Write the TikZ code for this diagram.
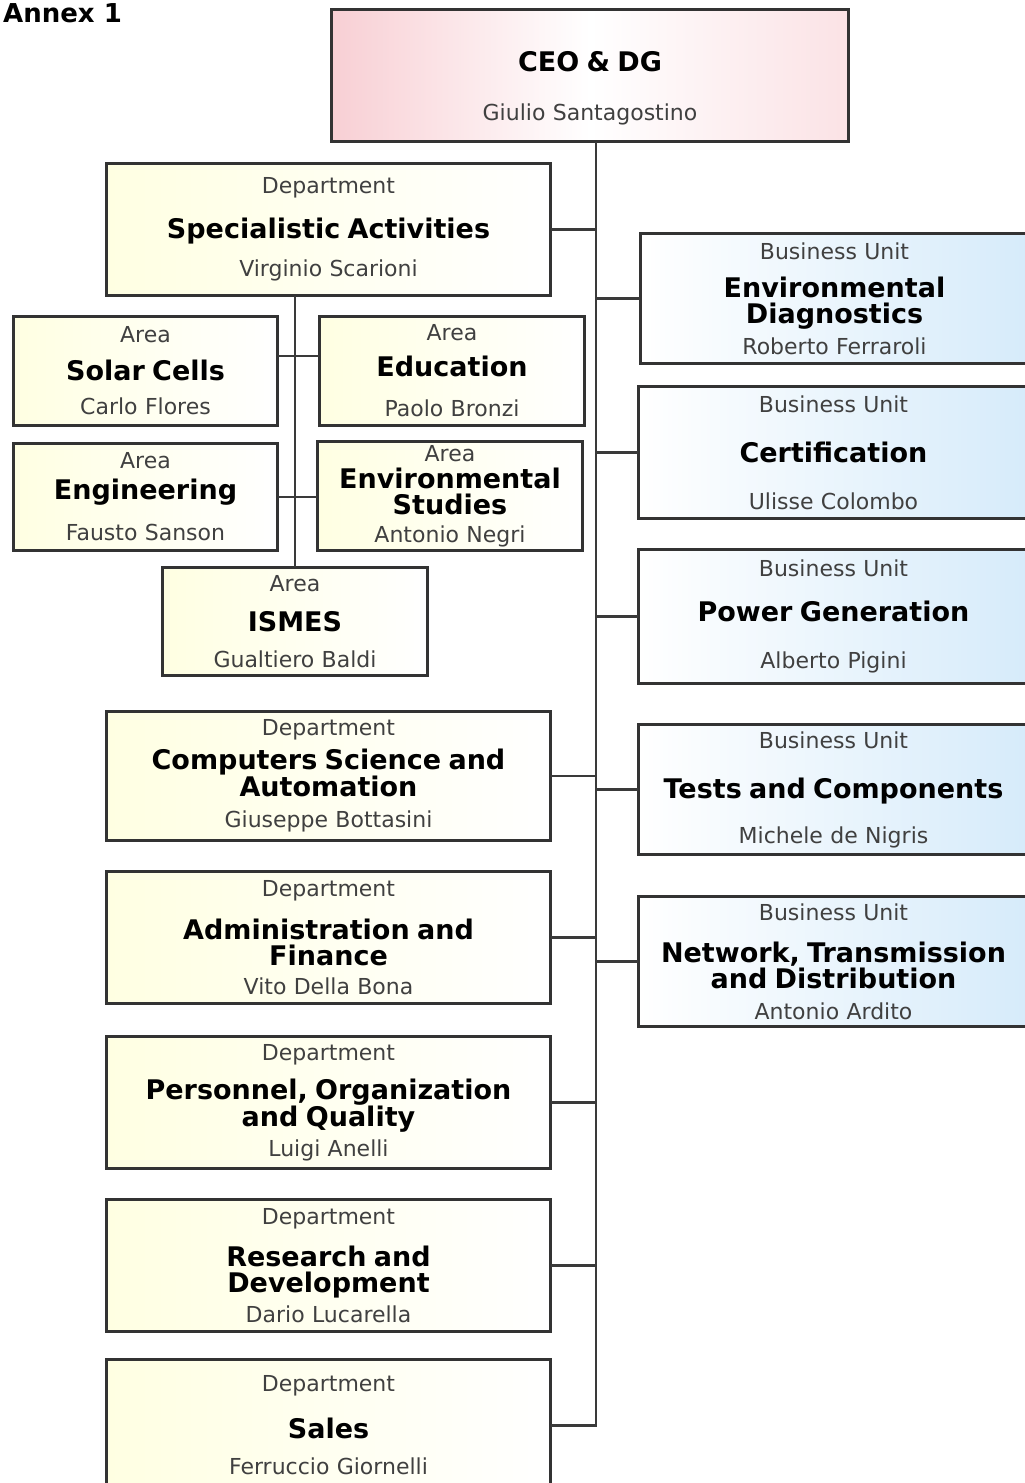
\documentclass[tikz,border=0pt]{standalone}
\usepackage{fontspec}
\setmainfont{DejaVu Sans}
\setlength{\parindent}{0pt}
\definecolor{boxline}{HTML}{333333}
\definecolor{linkgray}{HTML}{3A3A3A}
\definecolor{txtgray}{HTML}{404040}
\definecolor{ceopink}{HTML}{F8CFD4}
\definecolor{deptcream}{HTML}{FFFFE2}
\definecolor{bublue}{HTML}{D6EBFA}
\newcommand{\ttl}[1]{{\fontsize{27}{26}\selectfont\bfseries\color{black}#1}}
\tikzset{
x=1pt, y=-1pt, % one unit is one pixel of the chart, y downwards
orgbox/.style={draw=boxline, line width=3pt, anchor=north west, inner xsep=0pt, inner ysep=0pt,
  align=center, font=\fontsize{22}{26}\selectfont, text=txtgray}, % common look of every box
ceobox/.style={orgbox, text width=517pt, minimum height=132pt, left color=ceopink, right color=ceopink!60, middle color=white},
deptbox/.style={orgbox, text width=444pt, minimum height=132pt, left color=deptcream, right color=white},
areabox/.style={orgbox, text width=265pt, minimum height=108pt, left color=deptcream, right color=white},
bubox/.style={orgbox, text width=390pt, minimum height=130pt, left color=white, right color=bublue}, % right side is cut by the page
link/.style={draw=linkgray, line width=2.5pt, line cap=rect}, % connectors
}
\begin{document}
\begin{tikzpicture}
		\useasboundingbox (0,0) rectangle (1025,1483);
		\node[anchor=north west, inner sep=0pt, font=\fontsize{26}{26}\selectfont\bfseries] (annex) at (3,3) {Annex 1};
		\node[ceobox] (ceo) at (330,8) {\mbox{}\\[20pt]\ttl{CEO \& DG}\\[23pt]Giulio Santagostino};
		% departments on the left
		\node[deptbox] (spec) at (105,162) {Department\\[19pt]\ttl{Specialistic Activities}\\[12pt]Virginio Scarioni};
		\node[deptbox, minimum height=129pt] (comp) at (105,710) {Department\\[8pt]\ttl{Computers Science and}\\\ttl{Automation}\\[5pt]Giuseppe Bottasini};
		\node[deptbox] (admin) at (105,870) {Department\\[17pt]\ttl{Administration and}\\\ttl{Finance}\\[3pt]Vito Della Bona};
		\node[deptbox] (pers) at (105,1035) {Department\\[13pt]\ttl{Personnel, Organization}\\\ttl{and Quality}\\[4pt]Luigi Anelli};
		\node[deptbox] (rnd) at (105,1198) {Department\\[16pt]\ttl{Research and}\\\ttl{Development}\\[4pt]Dario Lucarella};
		\node[deptbox] (sales) at (105,1358) {Department\\[21pt]\ttl{Sales}\\[10pt]Ferruccio Giornelli};
		% areas under Specialistic Activities
		\node[areabox, text width=264pt, minimum height=109pt] (solar) at (12,315) {Area\\[12pt]\ttl{Solar Cells}\\[8pt]Carlo Flores};
		\node[areabox, minimum height=109pt] (edu) at (318,315) {Area\\[10pt]\ttl{Education}\\[14pt]Paolo Bronzi};
		\node[areabox, text width=264pt, minimum height=107pt] (eng) at (12,442) {Area\\[5pt]\ttl{Engineering}\\[15pt]Fausto Sanson};
		\node[areabox, minimum height=109pt] (envst) at (316,440) {Area\\[1pt]\ttl{Environmental}\\\ttl{Studies}\\[2pt]Antonio Negri};
		\node[areabox] (ismes) at (161,566) {Area\\[14pt]\ttl{ISMES}\\[10pt]Gualtiero Baldi};
		% business units on the right
		\node[bubox, text width=388pt] (envdiag) at (639,232) {Business Unit\\[12pt]\ttl{Environmental}\\\ttl{Diagnostics}\\[5pt]Roberto Ferraroli};
		\node[bubox, minimum height=132pt] (cert) at (637,385) {Business Unit\\[24pt]\ttl{Certification}\\[21pt]Ulisse Colombo};
		\node[bubox, minimum height=134pt] (power) at (637,548) {Business Unit\\[19pt]\ttl{Power Generation}\\[21pt]Alberto Pigini};
		\node[bubox] (tests) at (637,723) {Business Unit\\[24pt]\ttl{Tests and Components}\\[19pt]Michele de Nigris};
		\node[bubox] (net) at (637,895) {Business Unit\\[16pt]\ttl{Network, Transmission}\\\ttl{and Distribution}\\[5pt]Antonio Ardito};
		\coordinate (trunk) at (596,1424);
		\draw[link] (ceo.south -| trunk) -- (trunk)
			(spec.east) -- (spec.east -| trunk)
			(comp.east) -- (comp.east -| trunk)
			(admin.east) -- (admin.east -| trunk)
			(pers.east) -- (pers.east -| trunk)
			(rnd.east) -- (rnd.east -| trunk)
			(sales.east) -- (sales.east -| trunk)
			(envdiag.west) -- (envdiag.west -| trunk)
			(cert.west) -- (cert.west -| trunk)
			(power.west) -- (power.west -| trunk)
			(tests.west) -- (tests.west -| trunk)
			(net.west) -- (net.west -| trunk);
		\draw[link] (ismes.north) -- (ismes.north |- spec.south)
			([yshift=15pt]solar.east) -- ([yshift=15pt]solar.east -| edu.west)
			(eng.east) -- (eng.east -| envst.west);
	\end{tikzpicture}
\end{document}
